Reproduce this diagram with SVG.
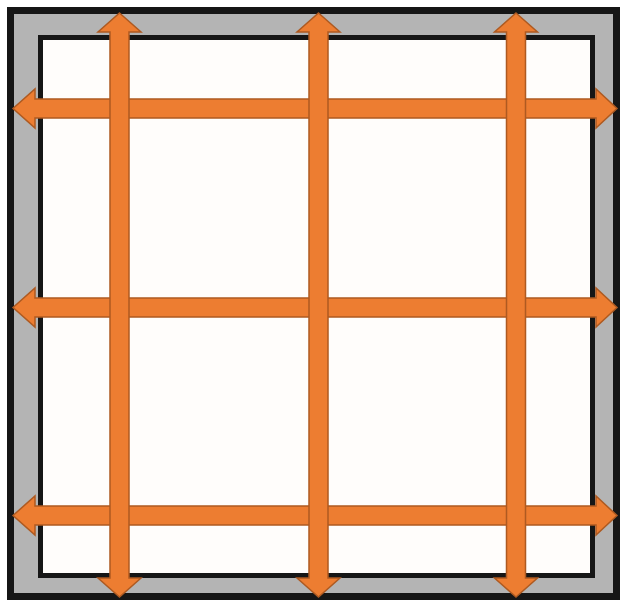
<svg xmlns="http://www.w3.org/2000/svg" xmlns:xlink="http://www.w3.org/1999/xlink" width="621" height="602" viewBox="0 0 621 602">
<defs>
<style>
.arrow{fill:#ED7D31;stroke:#AE5A21;stroke-width:1.5;stroke-linejoin:miter}
</style>
<path id="harrow" class="arrow" d="M13,0 L35,-19.5 L35,-9.5 L596,-9.5 L596,-19.5 L617,0 L596,19.5 L596,9.5 L35,9.5 L35,19.5 Z"/>
<path id="varrow" class="arrow" d="M0,13 L21.5,32 L9.5,32 L9.5,578 L21.5,578 L0,597 L-21.5,578 L-9.5,578 L-9.5,32 L-21.5,32 Z"/>
</defs>
<rect width="621" height="602" fill="#ffffff"/>
<g id="frame">
<rect x="10.5" y="10.5" width="606" height="586" fill="#b4b4b4" stroke="#161616" stroke-width="7"/>
<rect x="40.5" y="37.5" width="552" height="538" fill="#fffdfb" stroke="#161616" stroke-width="5"/>
</g>
<g id="arrows">
<use id="h1" xlink:href="#harrow" transform="translate(0,108.5)"/>
<use id="h2" xlink:href="#harrow" transform="translate(0,307.5)"/>
<use id="h3" xlink:href="#harrow" transform="translate(0,515.5)"/>
<use id="v1" xlink:href="#varrow" transform="translate(119.5,0)"/>
<use id="v2" xlink:href="#varrow" transform="translate(318.5,0)"/>
<use id="v3" xlink:href="#varrow" transform="translate(516,0)"/>
</g>
</svg>
